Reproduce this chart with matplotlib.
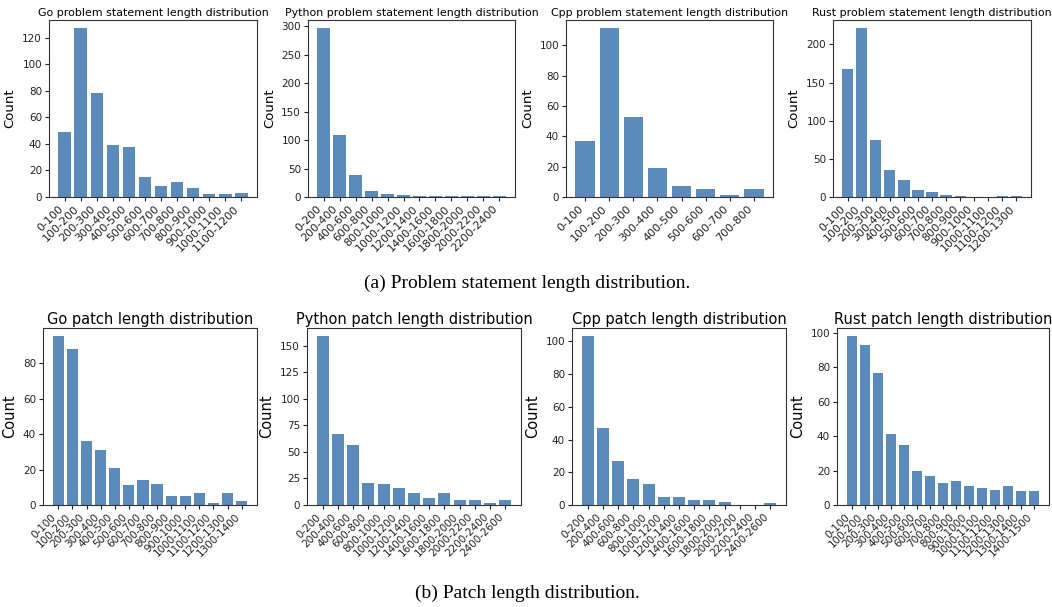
import matplotlib
matplotlib.use('Agg')
import matplotlib.pyplot as plt
import numpy as np

# bins of width 100 / 200
bins100 = ['%d-%d' % (i * 100, (i + 1) * 100) for i in range(15)]
bins200 = ['%d-%d' % (i * 200, (i + 1) * 200) for i in range(13)]

# (a) problem statement length
go_ps = [49, 127, 78, 39, 38, 15, 8, 11, 7, 2, 2, 3]
py_ps = [296, 108, 38, 10, 6, 3, 1, 1, 1, 1, 1, 1]
cpp_ps = [37, 111, 53, 19, 7, 5, 1, 5]
rust_ps = [168, 221, 75, 36, 22, 9, 6, 2, 1, 0, 0, 1, 1]

# (b) patch length
go_patch = [95, 88, 36, 31, 21, 11, 14, 12, 5, 5, 7, 1, 7, 2]
py_patch = [159, 67, 57, 21, 20, 16, 11, 7, 11, 5, 5, 2, 5]
cpp_patch = [103, 47, 27, 16, 13, 5, 5, 3, 3, 2, 0, 0, 1]
rust_patch = [98, 93, 77, 41, 35, 20, 17, 13, 14, 11, 10, 9, 11, 8, 8]

top = [('Go', go_ps, bins100), ('Python', py_ps, bins200),
       ('Cpp', cpp_ps, bins100), ('Rust', rust_ps, bins100)]
bottom = [('Go', go_patch, bins100), ('Python', py_patch, bins200),
          ('Cpp', cpp_patch, bins200), ('Rust', rust_patch, bins100)]

W, H = 1052, 607
fig = plt.figure(figsize=(W / 100, H / 100), dpi=100)

BAR = '#5a8bba'

def panel(box, name, vals, labels, title_fs, xt_fs, yt_fs, lab_fs):
    l, r, t, b = box
    ax = fig.add_axes([l / W, 1 - b / H, (r - l) / W, (b - t) / H])
    x = np.arange(len(vals))
    ax.bar(x, vals, color=BAR, width=0.8)
    ax.set_xticks(x)
    ax.set_xticklabels(labels[:len(vals)], rotation=45, ha='right',
                       fontsize=xt_fs)
    ax.tick_params(axis='y', labelsize=yt_fs)
    ax.tick_params(length=3, pad=2, colors='#222222')
    ax.set_ylabel('Count', fontsize=lab_fs)
    ax.set_title(name, fontsize=title_fs, pad=3)
    for s in ax.spines.values():
        s.set_color('#333333')
    return ax

top_boxes = [(49, 257, 20, 197), (308, 515, 20, 197),
             (566, 773, 20, 197), (833, 1031, 20, 197)]
bot_boxes = [(43, 257, 328, 505), (307, 521, 328, 505),
             (572, 786, 328, 505), (837, 1049, 328, 505)]

for box, (lang, vals, labels) in zip(top_boxes, top):
    panel(box, '%s problem statement length distribution' % lang,
          vals, labels, 7.9, 8, 7.5, 9.5)

for box, (lang, vals, labels) in zip(bot_boxes, bottom):
    panel(box, '%s patch length distribution' % lang,
          vals, labels, 10.5, 7.5, 7.5, 10.5)

fig.text(0.501, 1 - 283 / H, '(a) Problem statement length distribution.',
         ha='center', va='center', fontsize=14, family='Liberation Serif')
fig.text(0.501, 1 - 593 / H, '(b) Patch length distribution.',
         ha='center', va='center', fontsize=14, family='Liberation Serif')

fig.savefig('out.png', dpi=100)
